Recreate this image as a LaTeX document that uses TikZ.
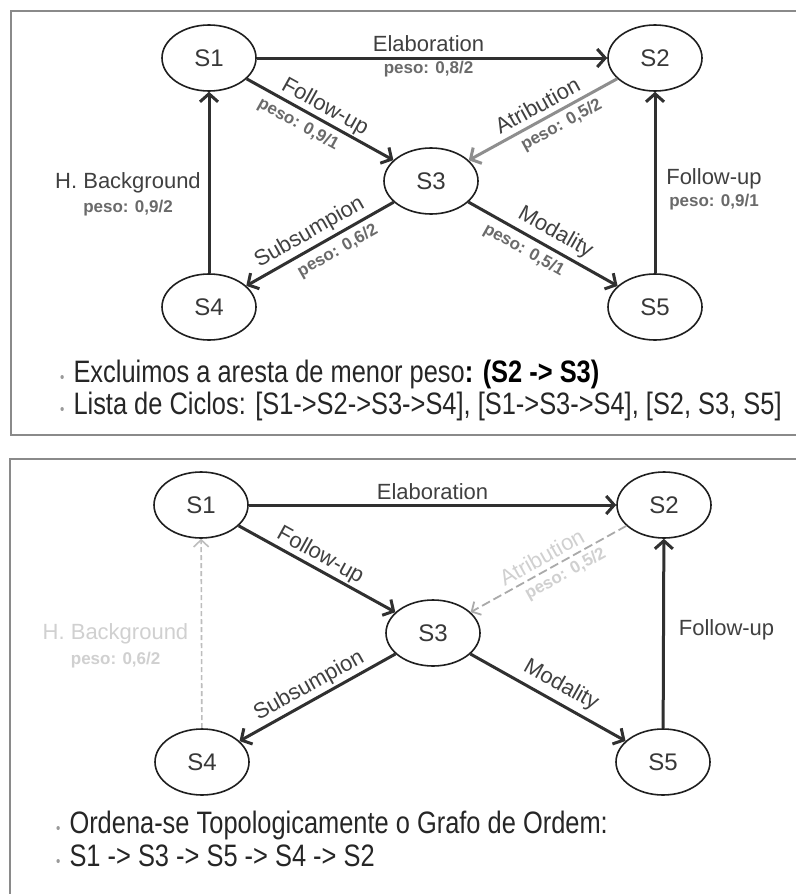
\documentclass[tikz,border=0pt]{standalone}
\usepackage{fontspec}
\setmainfont{Liberation Sans}
\newfontfamily\narrowfont[FakeStretch=0.82]{Liberation Sans}
\usetikzlibrary{arrows.meta,shapes.geometric}

\definecolor{framegray}{HTML}{8A8A8A}
\definecolor{edgedark}{HTML}{303030}
\definecolor{edgegray}{HTML}{8E8E8E}
\definecolor{labeltext}{HTML}{404040}
\definecolor{weighttext}{HTML}{6A6A6A}
\definecolor{fadedtext}{HTML}{D0D0D0}
\definecolor{fadededge}{HTML}{BDBDBD}
\definecolor{bulletgray}{HTML}{9A9A9A}

\tikzset{
  frame/.style={draw=framegray, line width=2.2pt},
  state/.style={ellipse, draw=black!88, line width=1.6pt, minimum width=94pt,
    minimum height=66pt, inner sep=0pt, text=black!78,
    font=\fontsize{24}{28}\selectfont},
  rel/.style={draw=edgedark, line width=3pt,
    -{Straight Barb[length=8pt,width=18pt]}},
  relgray/.style={rel, draw=edgegray},
  removed/.style={draw=fadededge, line width=1.6pt, dash pattern=on 5pt off 3pt,
    -{Straight Barb[length=7pt,width=15pt]}},
  lab/.style={font=\fontsize{22}{26}\selectfont, text=labeltext, inner sep=0pt},
  wt/.style={font=\bfseries\fontsize{17}{19}\selectfont, text=weighttext, inner sep=0pt},
  faded/.style={text=fadedtext},
  bullet/.style={anchor=base west, inner sep=0pt, text=black!85,
    font=\narrowfont\fontsize{31}{35}\selectfont},
}
\newcommand{\dotitem}{{\color{bulletgray}\fontsize{15}{15}\selectfont\textbullet}\hspace{9pt}}

\begin{document}
\begin{tikzpicture}[x=1pt,y=-1pt]
\useasboundingbox (0,0) rectangle (795,894);
\fill[white] (0,0) rectangle (795,894);

% ---------- upper panel: graph with all relations ----------
\draw[frame] (11,11) rectangle (830,435);

\node[state] (a1) at (209,58)  {S1};
\node[state] (a2) at (655,58)  {S2};
\node[state] (a3) at (431,181) {S3};
\node[state] (a4) at (209,307) {S4};
\node[state] (a5) at (655,307) {S5};

\draw[rel] (a1) -- node[lab, pos=.49, yshift=14pt] {Elaboration}
                   node[wt,  pos=.49, yshift=-11pt] {peso: 0,8/2} (a2);
\draw[rel] (a1) -- node[lab, sloped, pos=.49, yshift=13pt] {Follow-up}
                   node[wt,  sloped, pos=.40, yshift=-15pt] {peso: 0,9/1} (a3);
\draw[relgray] (a2) -- node[lab, sloped, pos=.49, yshift=15pt] {Atribution}
                       node[wt,  sloped, pos=.42, yshift=-14pt] {peso: 0,5/2} (a3);
\draw[rel] (a3) -- node[lab, sloped, pos=.52, yshift=15pt] {Subsumpion}
                   node[wt,  sloped, pos=.43, yshift=-15pt] {peso: 0,6/2} (a4);
\draw[rel] (a3) -- node[lab, sloped, pos=.53, yshift=16pt] {Modality}
                   node[wt,  sloped, pos=.42, yshift=-15pt] {peso: 0,5/1} (a5);
\draw[rel] (a4) -- node[lab, pos=.50, xshift=-81pt] {H. Background}
                   node[wt,  pos=.36, xshift=-81pt] {peso: 0,9/2} (a1);
\draw[rel] (a5) -- node[lab, pos=.52, xshift=59pt] {Follow-up}
                   node[wt,  pos=.39, xshift=59pt] {peso: 0,9/1} (a2);

\node[bullet] (t1) at (60,382)
  {\dotitem Excluimos a aresta de menor peso\textbf{\color{black}: (S2 -> S3)}};
\node[bullet] (t2) at (60,414)
  {\dotitem Lista de Ciclos: [S1->S2->S3->S4], [S1->S3->S4], [S2, S3, S5]};

% ---------- lower panel: graph after removing the cycle edges ----------
\draw[frame] (10,459) rectangle (830,930);

\node[state] (b1) at (201,505) {S1};
\node[state] (b2) at (664,505) {S2};
\node[state] (b3) at (433,633) {S3};
\node[state] (b4) at (202,762) {S4};
\node[state] (b5) at (663,762) {S5};

\draw[rel] (b1) -- node[lab, pos=.50, yshift=13pt] {Elaboration} (b2);
\draw[rel] (b1) -- node[lab, sloped, pos=.48, yshift=13pt] {Follow-up} (b3);
\draw[removed, draw=edgegray!75, line width=1.8pt, dash pattern=on 9pt off 4pt] (b2) --
      node[lab, faded, sloped, pos=.50, yshift=14pt] {Atribution}
      node[wt, faded, sloped, pos=.43, yshift=-13pt] {peso: 0,5/2} (b3);
\draw[rel] (b3) -- node[lab, sloped, pos=.51, yshift=14pt] {Subsumpion} (b4);
\draw[rel] (b3) -- node[lab, sloped, pos=.53, yshift=17pt] {Modality} (b5);
\draw[removed] (b4) -- node[lab, faded, pos=.50, xshift=-86pt] {H. Background}
                      node[wt, faded, pos=.36, xshift=-86pt] {peso: 0,6/2} (b1);
\draw[rel] (b5) -- node[lab, pos=.52, xshift=63pt] {Follow-up} (b2);

\node[bullet] (t3) at (56,833)
  {\dotitem Ordena-se Topologicamente o Grafo de Ordem:};
\node[bullet] (t4) at (56,866)
  {\dotitem S1 -> S3 -> S5 -> S4 -> S2};
\end{tikzpicture}
\end{document}
